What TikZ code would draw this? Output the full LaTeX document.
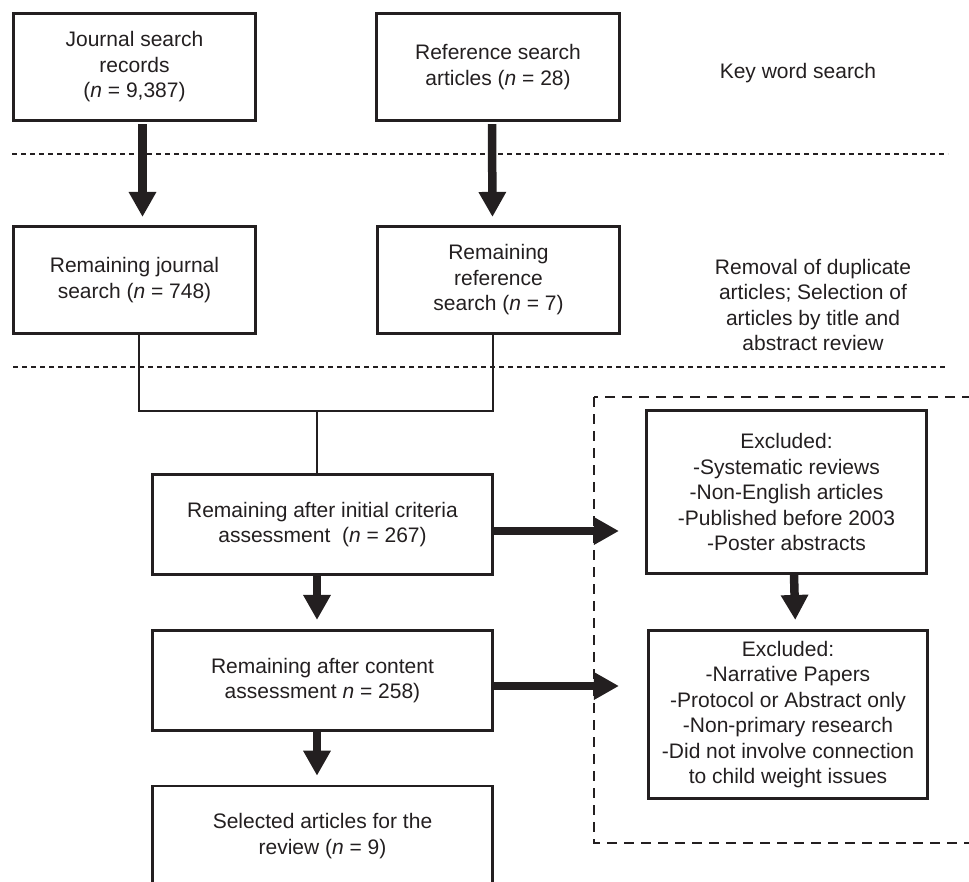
\documentclass[tikz,border=0pt]{standalone}
\usepackage{fontspec}
\setmainfont{Liberation Sans}
\usepackage{tikz}
\usetikzlibrary{arrows.meta}
\definecolor{inkColor}{HTML}{231F20}

\begin{document}
\begin{tikzpicture}[x=1pt, y=-1pt, inkColor,
    box/.style={draw, line width=2.6pt, align=center, inner sep=0pt,
        font=\fontsize{21}{25.5}\selectfont},
    note/.style={align=center, font=\fontsize{21}{25.5}\selectfont},
    fat/.style={line width=8.5pt, -{Triangle[width=26pt, length=25pt]}},
    link/.style={line width=2.4pt},
    sep/.style={line width=2pt, dash pattern=on 5pt off 4pt}]
    \path[use as bounding box, clip] (0,0) rectangle (969,882);

    \node[box, minimum width=242.5pt, minimum height=107.5pt] (journal) at (134.5,67)
        {Journal search\\records\\(\textit{n} = 9,387)};
    \node[box, minimum width=243.5pt, minimum height=107.5pt] (reference) at (498,67)
        {Reference search\\articles (\textit{n} = 28)};
    \node[note] (keyword) at (798,73) {Key word search};

    \draw[sep] (12,154) -- (948,154);

    \node[box, minimum width=242.5pt, minimum height=107.5pt] (remjournal) at (134.5,280)
        {Remaining journal\\search (\textit{n} = 748)};
    \node[box, minimum width=242.5pt, minimum height=107.5pt] (remref) at (498.5,280)
        {Remaining\\reference\\search (\textit{n} = 7)};
    \node[note] (removal) at (813,305)
        {Removal of duplicate\\articles; Selection of\\articles by title and\\abstract review};

    \draw[sep] (13,367) -- (948,367);

    \node[box, minimum width=340.5pt, minimum height=100.5pt] (criteria) at (322.5,524.5)
        {Remaining after initial criteria\\assessment~~(\textit{n} = 267)};
    \node[box, minimum width=340.5pt, minimum height=100.5pt] (content) at (322.5,680.5)
        {Remaining after content\\assessment \textit{n} = 258)};
    \node[box, minimum width=340.5pt, minimum height=100pt] (selected) at (322.5,836)
        {Selected articles for the\\review (\textit{n} = 9)};

    \draw[line width=2.2pt, dash pattern=on 10pt off 7pt] (594,397) rectangle (1000,843);
    \node[box, minimum width=280.5pt, minimum height=163.5pt] (exclA) at (786.5,492)
        {Excluded:\\-Systematic reviews\\-Non-English articles\\-Published before 2003\\-Poster abstracts};
    \node[box, minimum width=279.5pt, minimum height=168.5pt] (exclB) at (788,714.5)
        {Excluded:\\-Narrative Papers\\-Protocol or Abstract only\\-Non-primary research\\-Did not involve connection\\to child weight issues};

    \draw[fat, shorten <=2pt, shorten >=8pt] ([xshift=8pt]journal.south) -- ([xshift=8pt]remjournal.north);
    \draw[fat, shorten <=2pt, shorten >=8pt] ([xshift=-6pt]reference.south) -- ([xshift=-6pt]remref.north);

    \coordinate (join) at (317,411);
    \draw[link] ([xshift=4.5pt]remjournal.south) |- (join) -| ([xshift=-5.5pt]remref.south);
    \draw[link] (join) -- (join |- criteria.north);

    \draw[fat, shorten >=9pt] ([xshift=-5.5pt]criteria.south) -- ([xshift=-5.5pt]content.north);
    \draw[fat, shorten >=9pt] ([xshift=-5.5pt]content.south) -- ([xshift=-5.5pt]selected.north);
    \draw[fat, shorten >=26pt] ([yshift=-6.5pt]criteria.east) -- ([yshift=-6.5pt]criteria.east -| exclA.west);
    \draw[fat, shorten >=28pt] ([yshift=-5.5pt]content.east) -- ([yshift=-5.5pt]content.east -| exclB.west);
    \draw[fat, shorten >=9pt] ([xshift=7.5pt]exclA.south) -- ([xshift=7.5pt]exclB.north);
\end{tikzpicture}
\end{document}
